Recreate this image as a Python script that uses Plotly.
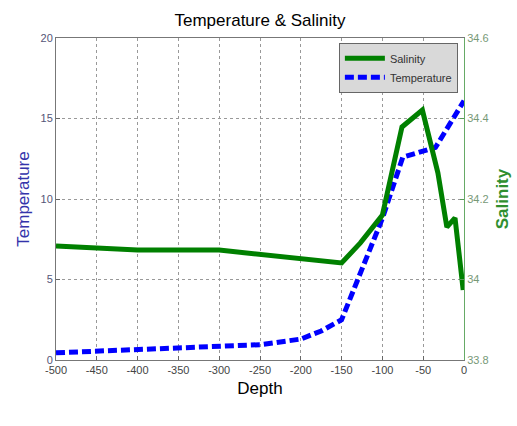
import plotly.graph_objects as go

depth_temp = [-500, -450, -400, -350, -300, -250, -200, -175, -150, -125, -100, -75, -50, -35, 0]
temperature = [0.45, 0.55, 0.6, 0.7, 0.8, 0.95, 1.3, 1.8, 2.5, 5.6, 8.8, 12.6, 13.0, 13.2, 16.1]

depth_sal = [-500, -400, -300, -150, -127, -100, -76, -51, -32, -21, -11, -1]
salinity = [34.083, 34.073, 34.073, 34.041, 34.091, 34.160, 34.379, 34.421, 34.265, 34.130, 34.153, 33.974]

x_ticks = list(range(-500, 1, 50))
x_labels = [str(v) for v in x_ticks]
left_ticks = [0, 5, 10, 15, 20]
right_ticks = [33.8, 34.0, 34.2, 34.4, 34.6]
right_labels = ["33.8", "34", "34.2", "34.4", "34.6"]

FONT = "Liberation Sans, Arial, sans-serif"
fig = go.Figure()
fig.add_trace(go.Scatter(x=depth_temp, y=temperature, mode="lines", name="Temperature",
                         line=dict(color="#0000ff", width=5, dash="9px,4px"), yaxis="y", legendrank=2))
fig.add_trace(go.Scatter(x=depth_sal, y=salinity, mode="lines", name="Salinity",
                         line=dict(color="#008000", width=5), yaxis="y2", legendrank=1))

fig.update_layout(
    width=517, height=426,
    margin=dict(l=56, r=53, t=38, b=66),
    paper_bgcolor="white", plot_bgcolor="white",
    font=dict(family=FONT, size=11, color="#333"),
    title=dict(text="Temperature & Salinity", x=0.5, xref="paper", y=0.952, yanchor="middle",
               font=dict(size=17, color="black")),
    showlegend=True,
    legend=dict(x=0.985, y=0.985, xanchor="right", yanchor="top", bgcolor="#d9d9d9",
                bordercolor="#666", borderwidth=1, font=dict(size=11, color="#333"),
                tracegroupgap=0, itemwidth=40),
    xaxis=dict(range=[-500, 0], tickvals=x_ticks, ticktext=x_labels, ticks="inside", ticklen=4,
               tickcolor="#666", automargin=False,
               showgrid=True, gridcolor="#999", griddash="dot", gridwidth=1,
               showline=True, linecolor="#777", mirror=True, zeroline=False,
               title=dict(text="Depth", font=dict(size=17, color="black"), standoff=6),
               tickfont=dict(size=11, color="#444")),
    yaxis=dict(range=[0, 20], tickvals=left_ticks, ticks="inside", ticklen=4, tickcolor="#666",
               automargin=False,
               showgrid=True, gridcolor="#999", griddash="dot", gridwidth=1,
               showline=True, linecolor="#777", zeroline=False,
               title=dict(text="Temperature", font=dict(size=17, color="#3333aa"), standoff=6),
               tickfont=dict(size=11, color="#555577")),
    yaxis2=dict(range=[33.8, 34.6], tickvals=right_ticks, ticktext=right_labels, overlaying="y",
                side="right", ticks="inside", ticklen=4, tickcolor="#5a9a5a", automargin=False,
                showgrid=False, showline=True, linecolor="#66aa66", zeroline=False,
                title=dict(text="<b>Salinity</b>", font=dict(size=17, color="#2f8f2f"), standoff=8),
                tickfont=dict(size=11, color="#779977")),
)

fig.write_html("out.html")
